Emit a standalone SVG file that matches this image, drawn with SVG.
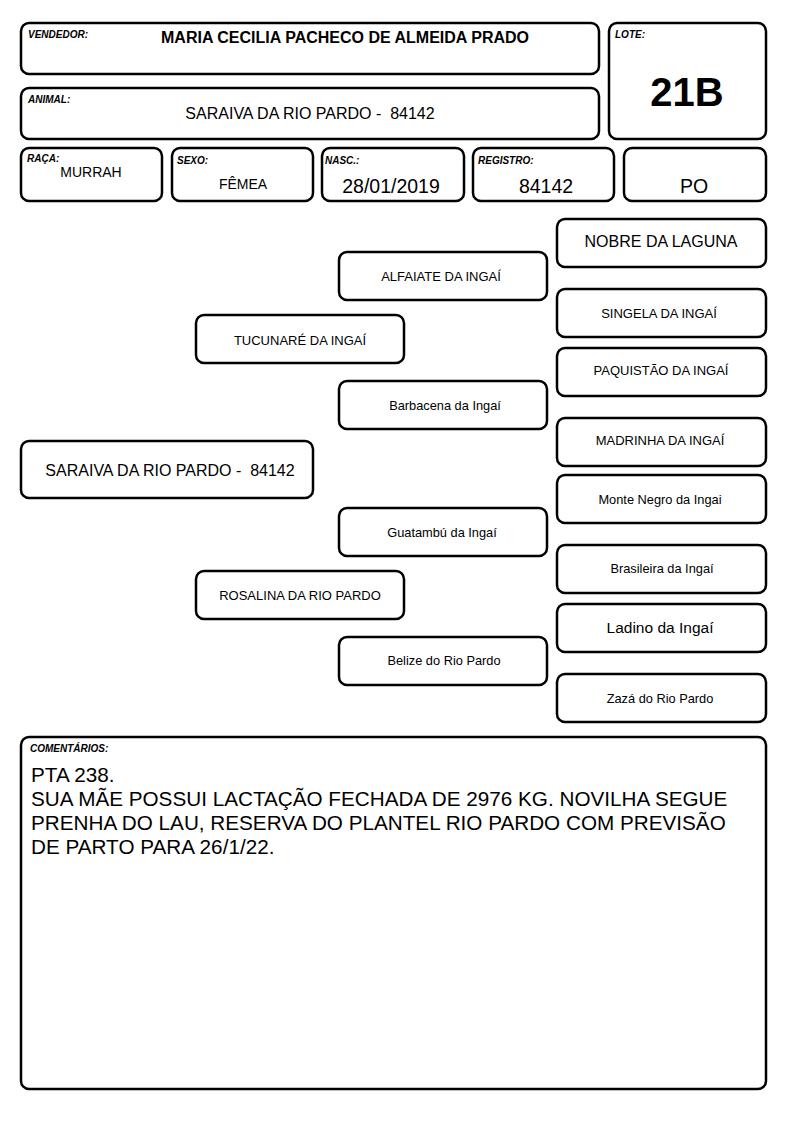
<svg xmlns="http://www.w3.org/2000/svg" width="794" height="1123" viewBox="0 0 794 1123">
<style>
.b{fill:#fff;stroke:#000;stroke-width:2.5}
text{font-family:"Liberation Sans",Arial,sans-serif;fill:#000}
.l{font-size:10px;font-weight:bold;font-style:italic}
.c{text-anchor:middle}
.s13{font-size:13px}
.s12{font-size:12.8px}
.s16{font-size:16px}
.s14{font-size:14px}
.v{font-size:19.5px}
</style>
<rect width="794" height="1123" fill="#fff"/>
<g id="vendedor"><rect class="b" x="21" y="23" width="578" height="51" rx="8"/><text class="l" x="28" y="38">VENDEDOR:</text><text class="c" x="345" y="43" font-size="16" font-weight="bold">MARIA CECILIA PACHECO DE ALMEIDA PRADO</text></g>
<g id="animal"><rect class="b" x="21" y="88" width="578" height="51" rx="8"/><text class="l" x="28" y="103">ANIMAL:</text><text class="c s16" x="310" y="119">SARAIVA DA RIO PARDO -&#160; 84142</text></g>
<g id="lote"><rect class="b" x="609" y="23" width="157" height="116" rx="8"/><text class="l" x="615" y="38">LOTE:</text><text class="c" x="687" y="106" font-size="40" font-weight="bold">21B</text></g>
<g id="raca"><rect class="b" x="21" y="148" width="141" height="53" rx="8"/><text class="l" x="27" y="162">RAÇA:</text><text class="c s14" x="91" y="177">MURRAH</text></g>
<g id="sexo"><rect class="b" x="172" y="148" width="141" height="53" rx="8"/><text class="l" x="177" y="164">SEXO:</text><text class="c s14" x="243" y="189">FÊMEA</text></g>
<g id="nasc"><rect class="b" x="322" y="148" width="142" height="53" rx="8"/><text class="l" x="325" y="164">NASC.:</text><text class="c v" x="391" y="193">28/01/2019</text></g>
<g id="registro"><rect class="b" x="473" y="148" width="141" height="53" rx="8"/><text class="l" x="478" y="164">REGISTRO:</text><text class="c v" x="546" y="193">84142</text></g>
<g id="po"><rect class="b" x="624" y="148" width="142" height="53" rx="8"/><text class="c v" x="694" y="193">PO</text></g>
<g id="nobre"><rect class="b" x="557" y="219" width="209" height="48" rx="8"/><text class="c s16" x="661" y="247">NOBRE DA LAGUNA</text></g>
<g id="alfaiate"><rect class="b" x="339" y="252" width="208" height="48" rx="8"/><text class="c s13" x="441" y="281">ALFAIATE DA INGAÍ</text></g>
<g id="singela"><rect class="b" x="557" y="289" width="209" height="48" rx="8"/><text class="c s13" x="659" y="318">SINGELA DA INGAÍ</text></g>
<g id="tucunare"><rect class="b" x="196" y="315" width="208" height="48" rx="8"/><text class="c s13" x="300" y="345">TUCUNARÉ DA INGAÍ</text></g>
<g id="paquistao"><rect class="b" x="557" y="348" width="209" height="48" rx="8"/><text class="c s13" x="661" y="375">PAQUISTÃO DA INGAÍ</text></g>
<g id="barbacena"><rect class="b" x="339" y="381" width="208" height="48" rx="8"/><text class="c s12" x="445" y="410">Barbacena da Ingaí</text></g>
<g id="madrinha"><rect class="b" x="557" y="418" width="209" height="48" rx="8"/><text class="c s13" x="660" y="445">MADRINHA DA INGAÍ</text></g>
<g id="saraiva"><rect class="b" x="21" y="441" width="292" height="57" rx="8"/><text class="c s16" x="170" y="476">SARAIVA DA RIO PARDO -&#160; 84142</text></g>
<g id="montenegro"><rect class="b" x="557" y="475" width="209" height="48" rx="8"/><text class="c s12" x="660" y="504">Monte Negro da Ingai</text></g>
<g id="guatambu"><rect class="b" x="339" y="508" width="208" height="48" rx="8"/><text class="c s12" x="442" y="537">Guatambú da Ingaí</text></g>
<g id="brasileira"><rect class="b" x="557" y="545" width="209" height="48" rx="8"/><text class="c s12" x="662" y="573">Brasileira da Ingaí</text></g>
<g id="rosalina"><rect class="b" x="196" y="571" width="208" height="48" rx="8"/><text class="c s13" x="300" y="600">ROSALINA DA RIO PARDO</text></g>
<g id="ladino"><rect class="b" x="557" y="604" width="209" height="48" rx="8"/><text class="c" x="660" y="633" font-size="15.5">Ladino da Ingaí</text></g>
<g id="belize"><rect class="b" x="339" y="637" width="208" height="48" rx="8"/><text class="c s12" x="444" y="665">Belize do Rio Pardo</text></g>
<g id="zaza"><rect class="b" x="557" y="674" width="209" height="48" rx="8"/><text class="c s12" x="660" y="703">Zazá do Rio Pardo</text></g>
<g id="comentarios"><rect class="b" x="21" y="737" width="745" height="352" rx="8"/><text class="l" x="30" y="752">COMENTÁRIOS:</text>
<text x="31" font-size="20.7"><tspan x="31" y="782">PTA 238.</tspan><tspan x="31" y="806">SUA MÃE POSSUI LACTAÇÃO FECHADA DE 2976 KG. NOVILHA SEGUE</tspan><tspan x="31" y="830">PRENHA DO LAU, RESERVA DO PLANTEL RIO PARDO COM PREVISÃO</tspan><tspan x="31" y="854">DE PARTO PARA 26/1/22.</tspan></text></g>
<g id="connectors"></g>
</svg>
